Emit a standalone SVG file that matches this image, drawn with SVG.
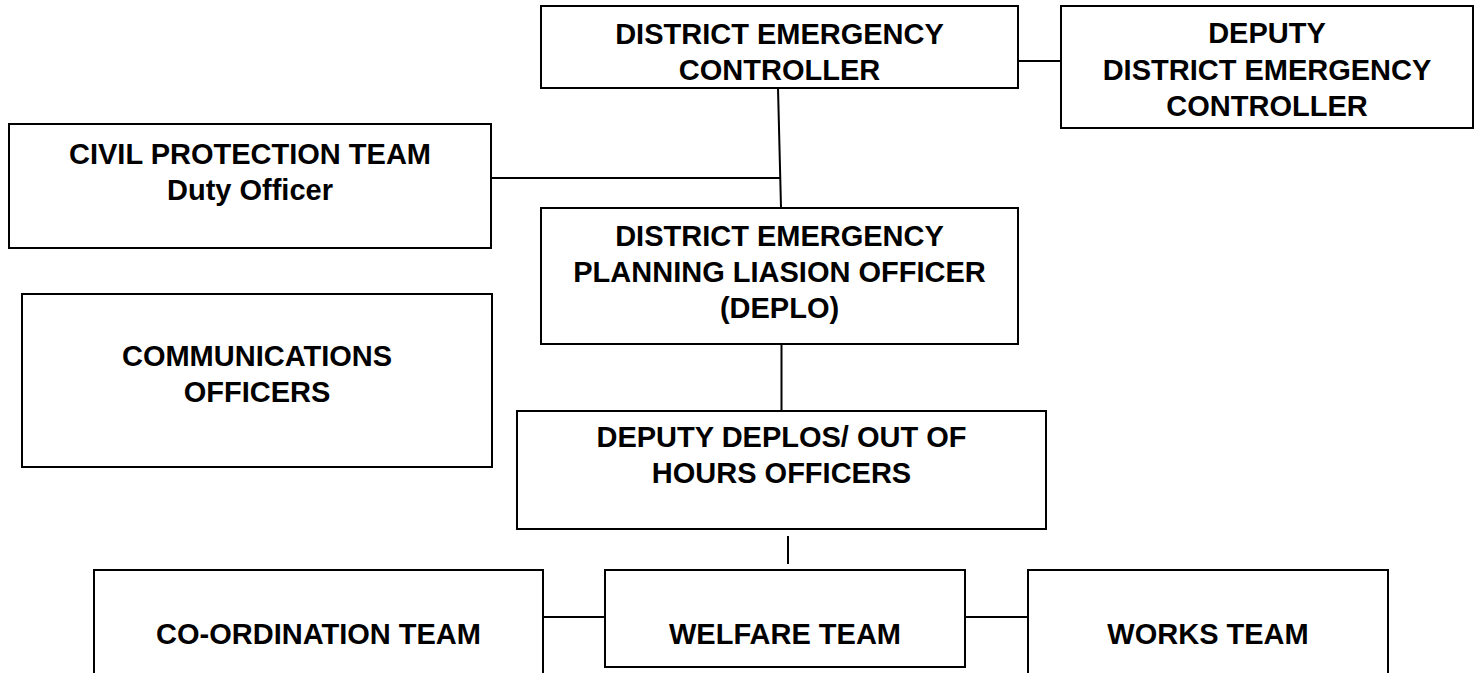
<svg xmlns="http://www.w3.org/2000/svg" width="1480" height="673" viewBox="0 0 1480 673">
<style>
.box{fill:#fff;stroke:#000;stroke-width:2}
.t{font-family:"Liberation Sans",Arial,sans-serif;font-weight:bold;font-size:29px;fill:#000;text-anchor:middle}
.c{stroke:#000;stroke-width:2;fill:none}
</style>
<rect width="1480" height="673" fill="#fff"/>
<g id="connectors">
<line class="c" x1="1018" y1="61" x2="1061" y2="61"/>
<line class="c" x1="778" y1="88" x2="781" y2="208"/>
<line class="c" x1="492" y1="178" x2="780" y2="178"/>
<line class="c" x1="781.5" y1="344" x2="781.5" y2="411"/>
<line class="c" x1="788" y1="536" x2="788" y2="564"/>
<line class="c" x1="543" y1="617" x2="605" y2="617"/>
<line class="c" x1="965" y1="617" x2="1028" y2="617"/>
</g>
<g id="dec">
<rect class="box" x="541" y="6" width="477" height="82"/>
<text class="t" x="779.5" y="44">DISTRICT EMERGENCY</text>
<text class="t" x="779.5" y="80">CONTROLLER</text>
</g>
<g id="deputy-dec">
<rect class="box" x="1061" y="6" width="412" height="122"/>
<text class="t" x="1267" y="43">DEPUTY</text>
<text class="t" x="1267" y="80">DISTRICT EMERGENCY</text>
<text class="t" x="1267" y="116">CONTROLLER</text>
</g>
<g id="civil">
<rect class="box" x="9" y="124" width="482" height="124"/>
<text class="t" x="250" y="164">CIVIL PROTECTION TEAM</text>
<text class="t" x="250" y="200">Duty Officer</text>
</g>
<g id="deplo">
<rect class="box" x="541" y="208" width="477" height="136"/>
<text class="t" x="779.5" y="246">DISTRICT EMERGENCY</text>
<text class="t" x="779.5" y="282">PLANNING LIASION OFFICER</text>
<text class="t" x="779.5" y="318">(DEPLO)</text>
</g>
<g id="comms">
<rect class="box" x="22" y="294" width="470" height="173"/>
<text class="t" x="257" y="366">COMMUNICATIONS</text>
<text class="t" x="257" y="402">OFFICERS</text>
</g>
<g id="deputy-deplos">
<rect class="box" x="517" y="411" width="529" height="118"/>
<text class="t" x="781.5" y="447">DEPUTY DEPLOS/ OUT OF</text>
<text class="t" x="781.5" y="483">HOURS OFFICERS</text>
</g>
<g id="coordination">
<rect class="box" x="94" y="570" width="449" height="120"/>
<text class="t" x="318.5" y="644">CO-ORDINATION TEAM</text>
</g>
<g id="welfare">
<rect class="box" x="605" y="570" width="360" height="97"/>
<text class="t" x="785" y="644">WELFARE TEAM</text>
</g>
<g id="works">
<rect class="box" x="1028" y="570" width="360" height="120"/>
<text class="t" x="1208" y="644">WORKS TEAM</text>
</g>
</svg>
